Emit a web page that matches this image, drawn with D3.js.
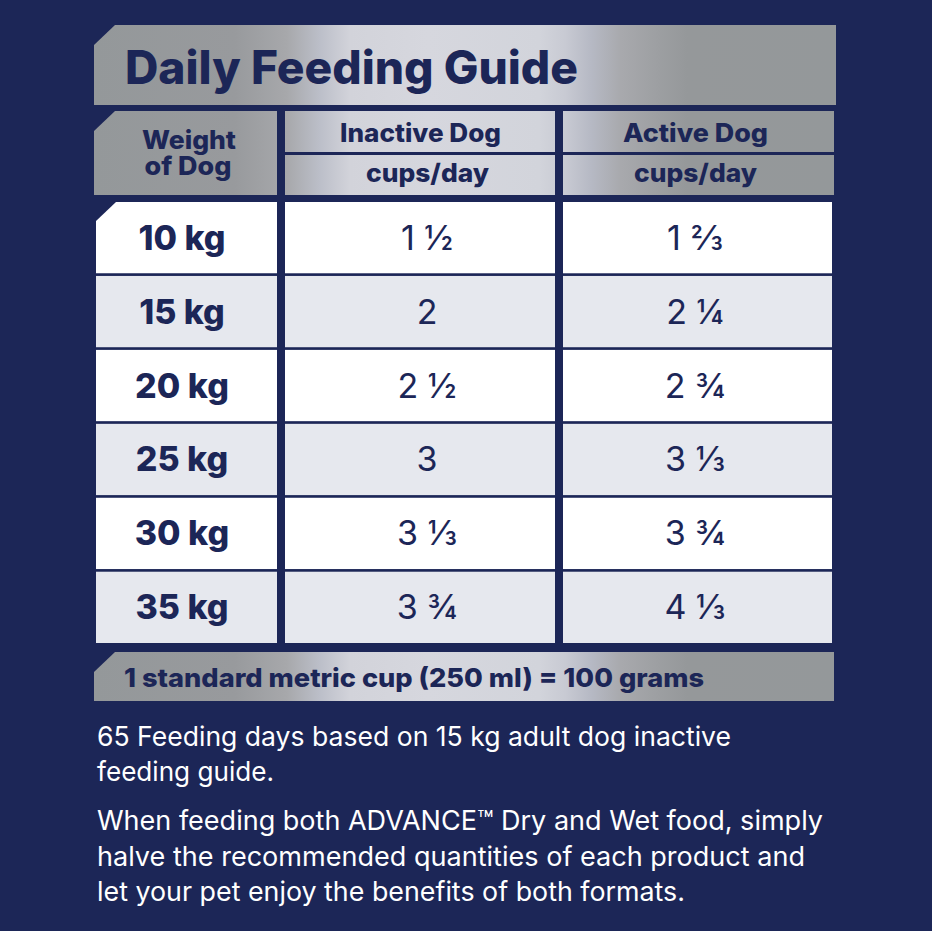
<!DOCTYPE html>
<html><head><meta charset="utf-8">
<script src="https://cdn.jsdelivr.net/npm/d3@7/dist/d3.min.js"></script>
<style>html,body{margin:0;padding:0;background:#1c2657}svg{display:block}text{font-family:Inter,sans-serif;fill:#1c2657}</style>
</head><body><svg id="c" width="932" height="931"></svg>
<script>
const title = "Daily Feeding Guide";
const weightHeader = ["Weight", "of Dog"];
const columnKeys = ["weight", "inactive", "active"];
const columnHeaders = ["Inactive Dog", "Active Dog"];
const unitLabel = "cups/day";
const weights = ["10 kg", "15 kg", "20 kg", "25 kg", "30 kg", "35 kg"];
const inactive = ["1 ½", "2", "2 ½", "3", "3 ⅓", "3 ¾"];
const active = ["1 ⅔", "2 ¼", "2 ¾", "3 ⅓", "3 ¾", "4 ⅓"];
const footer = "1 standard metric cup (250 ml) = 100 grams";
const note1 = ["65 Feeding days based on 15 kg adult dog inactive", "feeding guide."];
const note2 = ["When feeding both ADVANCE™ Dry and Wet food, simply", "halve the recommended quantities of each product and", "let your pet enjoy the benefits of both formats."];

const svg = d3.select("#c");
const defs = svg.append("defs");
const g0 = defs.append("linearGradient").attr("id", "metal").attr("gradientUnits", "userSpaceOnUse")
  .attr("x1", 94).attr("x2", 836).attr("y1", 0).attr("y2", 0);
[[0, "#94989a"], [.19, "#989a9d"], [.26, "#a7a8ab"], [.305, "#bcbfc9"], [.345, "#d2d3da"], [.45, "#d6d7de"], [.60, "#d2d4db"], [.635, "#c8cad3"], [.67, "#b6b9c4"], [.71, "#a8a9ad"], [.76, "#9d9fa2"], [.80, "#95989a"], [1, "#94989a"]]
  .forEach(([o, c]) => g0.append("stop").attr("offset", o).attr("stop-color", c));

const colLeft = d3.scaleOrdinal().domain(columnKeys).range([96, 285, 563]);
const colRight = d3.scaleOrdinal().domain(columnKeys).range([277, 555, 832]);
const colMid = d3.scaleOrdinal().domain(columnKeys).range([184, 427, 695]);
const rowY = d3.scaleBand().domain(weights).range([202, 643]).paddingInner(0.036);

const notched = (x0, y0, x1, y1, n, m) =>
  `M${x0},${y0 + m}L${x0 + n},${y0}H${x1}V${y1}H${x0}Z`;
const fit = (sel, w) => sel.attr("textLength", w).attr("lengthAdjust", "spacingAndGlyphs");

// title banner
svg.append("path").attr("d", notched(94, 25, 836, 105, 21, 20)).attr("fill", "url(#metal)");
fit(svg.append("text").attr("x", 125).attr("y", 84).attr("font-size", 46).attr("font-weight", 800).text(title), 453);

// header cells
svg.append("path").attr("d", notched(94, 111, 277, 195, 21, 20)).attr("fill", "url(#metal)");
const wh = svg.append("text").attr("text-anchor", "middle").attr("font-size", 26).attr("font-weight", 800);
wh.selectAll("tspan").data(weightHeader).join("tspan")
  .attr("x", (d, i) => 189 - i * 1).attr("y", (d, i) => 149 + i * 26)
  .attr("textLength", (d, i) => [94, 87][i]).attr("lengthAdjust", "spacingAndGlyphs").text(d => d);

const headerMid = [420.5, 695.5], unitMid = [427.5, 695.5], headerWidth = [161, 145];
columnHeaders.forEach((h, i) => {
  const k = columnKeys[i + 1], x0 = colLeft(k), x1 = i ? 834 : colRight(k);
  svg.append("rect").attr("x", x0).attr("y", 111).attr("width", x1 - x0).attr("height", 41).attr("fill", "url(#metal)");
  svg.append("rect").attr("x", x0).attr("y", 155).attr("width", x1 - x0).attr("height", 40).attr("fill", "url(#metal)");
  fit(svg.append("text").attr("x", headerMid[i]).attr("y", 142).attr("text-anchor", "middle")
    .attr("font-size", 25.5).attr("font-weight", 800).text(h), headerWidth[i]);
  fit(svg.append("text").attr("x", unitMid[i]).attr("y", 182).attr("text-anchor", "middle")
    .attr("font-size", 25.5).attr("font-weight", 800).text(unitLabel), 123);
});

// body
const rows = weights.map((w, i) => ({ w, i, vals: [inactive[i], active[i]] }));
const row = svg.append("g").selectAll("g").data(rows).join("g");
row.each(function (d) {
  const g = d3.select(this), y0 = rowY(d.w), h = rowY.bandwidth();
  const fill = d.i % 2 ? "#e6e8ee" : "#ffffff";
  if (d.i === 0) g.append("path").attr("d", notched(96, y0, 277, y0 + h, 20, 19)).attr("fill", fill);
  else g.append("rect").attr("x", 96).attr("y", y0).attr("width", 181).attr("height", h).attr("fill", fill);
  columnKeys.slice(1).forEach(k => g.append("rect").attr("x", colLeft(k)).attr("y", y0)
    .attr("width", colRight(k) - colLeft(k)).attr("height", h).attr("fill", fill));
  const cy = y0 + h / 2 + 12;
  g.append("text").attr("x", colMid("weight") - 2).attr("y", cy).attr("text-anchor", "middle")
    .attr("font-size", 34).attr("font-weight", 800).text(d.w);
  d.vals.forEach((v, j) => g.append("text").attr("x", colMid(columnKeys[j + 1]))
    .attr("y", cy).attr("text-anchor", "middle").attr("font-size", 34).attr("font-weight", 400).text(v));
});

// footer
svg.append("path").attr("d", notched(94, 652, 834, 701, 21, 20)).attr("fill", "url(#metal)");
fit(svg.append("text").attr("x", 124).attr("y", 687).attr("font-size", 26).attr("font-weight", 800).text(footer), 580);

// notes
const notes = svg.append("g");
const noteWidth1 = [634, 177], noteWidth2 = [726, 708, 588];
note1.forEach((t, i) => fit(notes.append("text").attr("x", 97).attr("y", 745.5 + i * 35.5)
  .attr("font-size", 26.5).style("fill", "#fff").text(t), noteWidth1[i]));
note2.forEach((t, i) => fit(notes.append("text").attr("x", 97).attr("y", 830 + i * 35.5)
  .attr("font-size", 26.5).style("fill", "#fff").text(t), noteWidth2[i]));
</script></body></html>
